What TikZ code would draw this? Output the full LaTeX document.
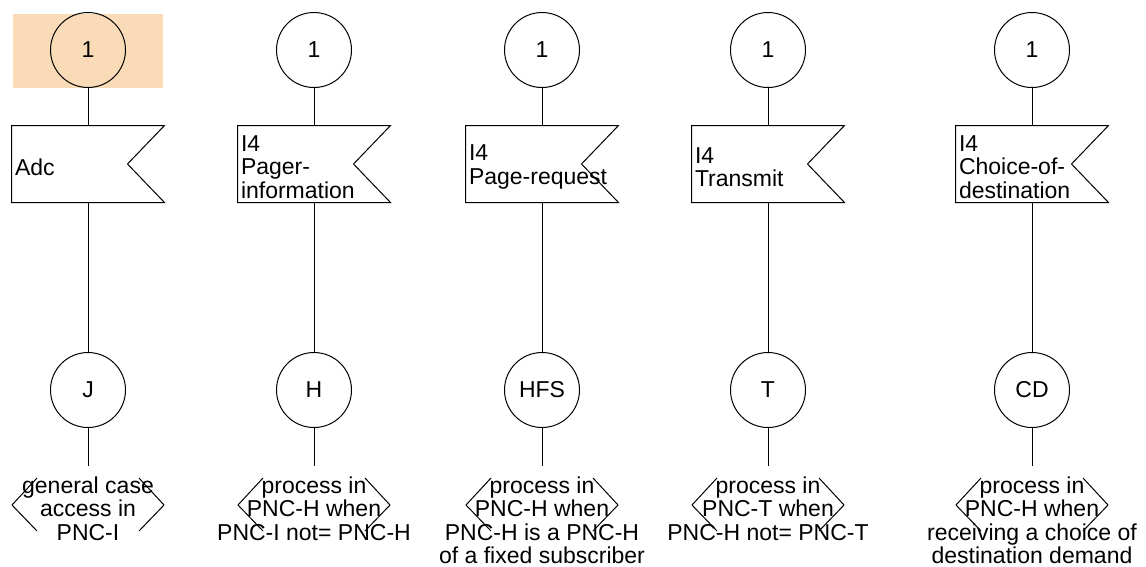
\documentclass[tikz,border=0pt]{standalone}
\usepackage{fontspec}
\setmainfont{Liberation Sans}
\usetikzlibrary{calc}
\definecolor{hl}{RGB}{249,219,183}
\begin{document}
\begin{tikzpicture}[x=1pt,y=-1pt, line width=1pt,
  every node/.style={font=\fontsize{23}{23.2}\selectfont},
  conn/.style={draw, circle, minimum size=75pt, inner sep=0pt},
  sigbox/.style={minimum width=152pt, minimum height=76pt, inner sep=0pt},
  sigtext/.style={anchor=west, align=left, inner sep=0pt},
  note/.style={anchor=north, align=center, inner sep=0pt}]
\useasboundingbox (0,0) rectangle (1146,566);
\fill[hl] (13,14) rectangle (163,88);
\foreach \i/\cx/\sig/\lab/\txt in {
 1/88/{Adc}/J/{general case\\access in\\PNC-I},
 2/314/{I4\\Pager-\\information}/H/{process in\\PNC-H when\\PNC-I not= PNC-H},
 3/542/{I4\\Page-request}/HFS/{process in\\PNC-H when\\PNC-H is a PNC-H\\of a fixed subscriber},
 4/768/{I4\\Transmit}/T/{process in\\PNC-T when\\PNC-H not= PNC-T},
 5/1032/{I4\\Choice-of-\\destination}/CD/{process in\\PNC-H when\\receiving a choice of\\destination demand}}
{
 \node[conn] (top\i) at (\cx,50) {1};
 \node[sigbox] (sig\i) at (\cx,164) {};
 \draw (sig\i.north west) -- (sig\i.north east) -- ($(sig\i.east)+(-37,0)$) -- (sig\i.south east) -- (sig\i.south west) -- cycle;
 \node[sigtext] (sigt\i) at ($(sig\i.west)+(3,3)$) {\sig};
 \node[conn] (bot\i) at (\cx,390) {\lab};
 \coordinate (end\i) at (\cx,466);
 \node[note] (note\i) at (\cx,476.5) {\txt};
 \coordinate (k\i) at (\cx,505);
 \draw ($(k\i)+(-51,-27)$) -- ($(k\i)+(-76,0)$) -- ($(k\i)+(-51,26)$);
 \draw ($(k\i)+(51,-27)$) -- ($(k\i)+(76,0)$) -- ($(k\i)+(51,26)$);
 \draw (top\i) -- (sig\i);
 \draw (sig\i) -- (bot\i);
 \draw (bot\i) -- (end\i);
}
\end{tikzpicture}
\end{document}
